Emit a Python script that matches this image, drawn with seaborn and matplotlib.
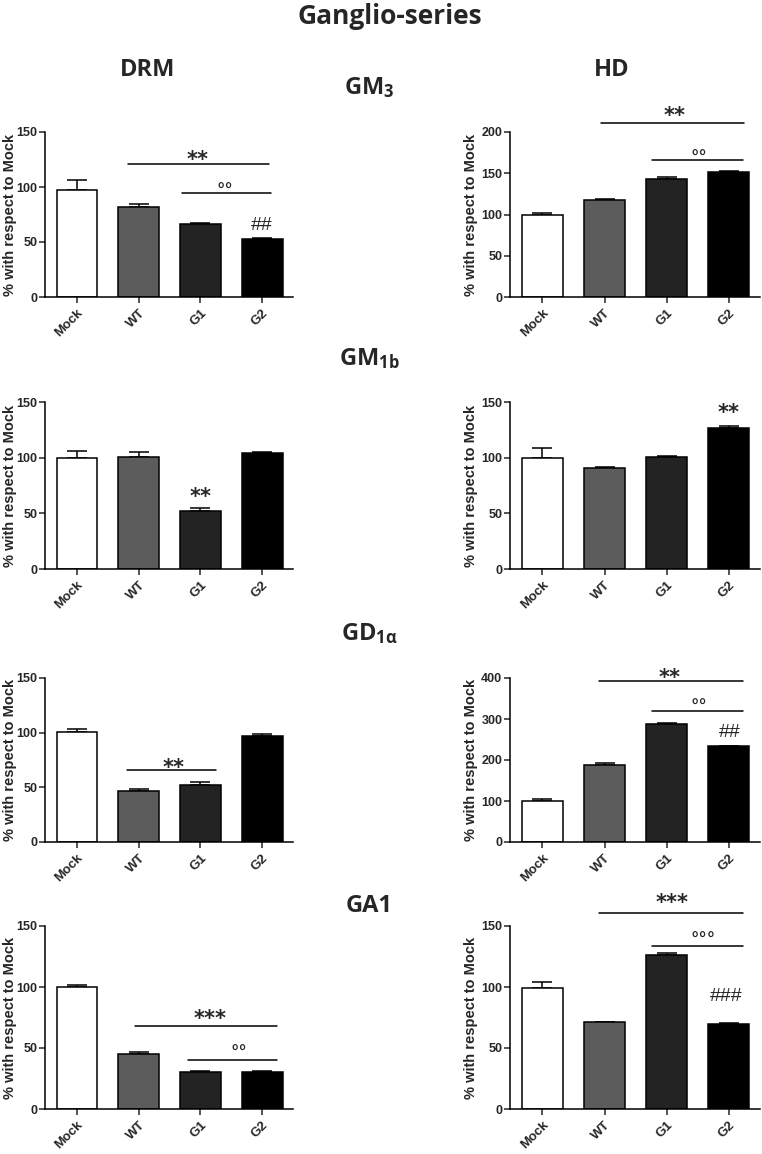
import matplotlib
matplotlib.use('Agg')
import matplotlib.pyplot as plt
import seaborn as sns
import numpy as np
import pandas as pd

# groups and bar shades
categories = ['Mock', 'WT', 'G1', 'G2']
bar_colors = ['#ffffff', '#5c5c5c', '#232323', '#000000']

# % with respect to Mock (mean, upper error)
drm_gm3 = [97, 82, 66, 52.5]
drm_gm3_err = [9, 2.5, 1.5, 1]
hd_gm3 = [100, 117.5, 143.5, 152]
hd_gm3_err = [2, 1, 2, 1]

drm_gm1b = [100, 100.5, 52.5, 104]
drm_gm1b_err = [6, 4.5, 2.5, 0.7]
hd_gm1b = [100, 90.5, 100.5, 126.5]
hd_gm1b_err = [9, 1.5, 0.7, 1.5]

drm_gd1a = [101, 47, 52.5, 97]
drm_gd1a_err = [2.5, 1.5, 2, 1.5]
hd_gd1a = [100, 188, 287, 235]
hd_gd1a_err = [4, 4, 4, 0]

drm_ga1 = [100, 45, 30.5, 30.5]
drm_ga1_err = [1.5, 1.5, 1, 0.3]
hd_ga1 = [99.5, 71, 126, 70]
hd_ga1_err = [4.5, 0.6, 2, 0.5]

row_titles = ['GM$_3$', 'GM$_{1b}$', 'GD$_{1α}$', 'GA1']
y_max = [[150, 200], [150, 150], [150, 400], [150, 150]]
y_step = [[50, 50], [50, 50], [50, 100], [50, 50]]

# significance marks: (x, y, text) and bracket lines (x0, x1, y)
marks = [
    [[(1.96, 131, '**'), (2.4, 101, '°°'), (3.0, 67, '##')],
     [(2.13, 228, '**'), (2.52, 175, '°°')]],
    [[(2.0, 71, '**')],
     [(3.0, 146, '**')]],
    [[(1.57, 74, '**')],
     [(2.05, 417, '**'), (2.52, 341, '°°'), (3.02, 273, '##')]],
    [[(2.16, 79, '***'), (2.63, 50, '°°')],
     [(2.08, 174, '***'), (2.58, 143, '°°°'), (2.95, 94, '###')]],
]
brackets = [
    [[(0.83, 3.11, 121), (1.7, 3.14, 94.5)],
     [(0.95, 3.25, 211), (1.77, 3.23, 166)]],
    [[], []],
    [[(0.81, 2.25, 66)],
     [(0.91, 3.23, 393), (1.77, 3.23, 320)]],
    [[(0.94, 3.24, 68), (1.8, 3.24, 40)],
     [(0.91, 3.23, 161), (1.77, 3.23, 134)]],
]

data = [[(drm_gm3, drm_gm3_err), (hd_gm3, hd_gm3_err)],
        [(drm_gm1b, drm_gm1b_err), (hd_gm1b, hd_gm1b_err)],
        [(drm_gd1a, drm_gd1a_err), (hd_gd1a, hd_gd1a_err)],
        [(drm_ga1, drm_ga1_err), (hd_ga1, hd_ga1_err)]]

sns.set_theme(style='ticks')
plt.rcParams['font.family'] = ['Liberation Sans', 'DejaVu Sans']
plt.rcParams['font.weight'] = 'bold'
plt.rcParams['mathtext.fontset'] = 'custom'
plt.rcParams['mathtext.rm'] = 'Open Sans:bold'
plt.rcParams['mathtext.default'] = 'rm'

W, H = 762, 1154
fig = plt.figure(figsize=(W / 100, H / 100), dpi=100)

col_x = [(45, 293), (510, 760)]
row_y = [(132, 297), (402, 569), (678, 842), (926, 1109)]
title_y = [88, 359, 634, 906]
ylabel_x = [17, 478]

head_font = dict(family=['Open Sans', 'DejaVu Sans'], weight='bold')

fig.text(390 / W, 1 - 16 / H, 'Ganglio-series', ha='center', va='center',
         fontsize=19, **head_font)
fig.text(148 / W, 1 - 70 / H, 'DRM', ha='center', va='center', fontsize=17, **head_font)
fig.text(612 / W, 1 - 70 / H, 'HD', ha='center', va='center', fontsize=17, **head_font)

for r in range(4):
    fig.text(369 / W, 1 - title_y[r] / H, row_titles[r], ha='center', va='center',
             fontsize=17, **head_font)
    for c in range(2):
        x0, x1 = col_x[c]
        y0, y1 = row_y[r]
        ax = fig.add_axes([x0 / W, 1 - y1 / H, (x1 - x0) / W, (y1 - y0) / H])
        vals, errs = data[r][c]
        df = pd.DataFrame({'group': categories, 'value': vals})
        sns.barplot(data=df, x='group', y='value', hue='group', palette=bar_colors,
                    edgecolor='black', linewidth=1.1, width=0.66, errorbar=None,
                    legend=False, ax=ax, zorder=2)
        ax.errorbar(np.arange(4), vals, yerr=[np.zeros(4), errs], fmt='none',
                    ecolor='black', elinewidth=1.1, capsize=7, capthick=1.1, zorder=1)
        ax.set_xlim(-0.52, 3.5)
        ax.set_ylim(0, y_max[r][c])
        ax.set_yticks(np.arange(0, y_max[r][c] + 1, y_step[r][c]))
        ax.set_xlabel('')
        ax.set_ylabel('% with respect to Mock', fontsize=10.5, fontweight='bold')
        ax.yaxis.set_label_coords((ylabel_x[c] - x0) / (x1 - x0), 0.5)
        ax.set_xticks(range(4))
        ax.set_xticklabels(categories, rotation=45, ha='right', rotation_mode='anchor',
                           fontsize=9.5, fontweight='bold')
        ax.tick_params(axis='y', length=4, width=1.1, pad=1.5)
        ax.tick_params(axis='x', length=4, width=1.1, pad=3)
        for lab in ax.get_yticklabels():
            lab.set_fontweight('bold')
            lab.set_fontsize(9)
        sns.despine(ax=ax)
        for s in ['left', 'bottom']:
            ax.spines[s].set_linewidth(1.1)
            ax.spines[s].set_color('black')

        for bx0, bx1, by in brackets[r][c]:
            ax.plot([bx0, bx1], [by, by], color='black', lw=1.1, clip_on=False)
        for tx, ty, s in marks[r][c]:
            if '*' in s:
                fs, fam, dy, fw = 15, ['DejaVu Sans'], -0.32 * 15, 'bold'
            elif '°' in s:
                fs, fam, dy, fw = 12, ['DejaVu Sans'], -0.36 * 12, 'bold'
            else:
                fs, fam, dy, fw = 14, ['Liberation Sans'], -0.1 * 14, 'normal'
            ax.annotate(s, xy=(tx, ty), xytext=(0, dy), textcoords='offset points',
                        ha='center', va='center', fontsize=fs, family=fam,
                        fontweight=fw, annotation_clip=False)

fig.savefig('out.png', dpi=100)
